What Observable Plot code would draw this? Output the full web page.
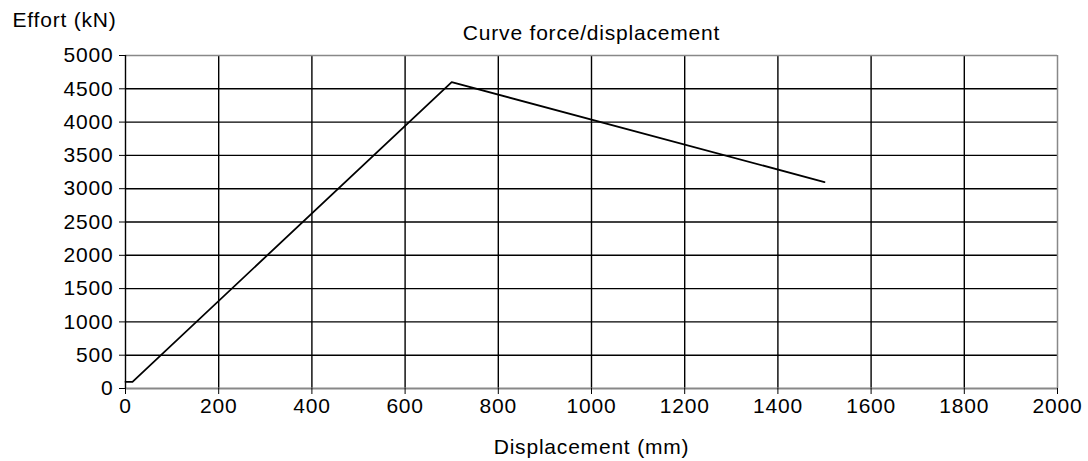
<!DOCTYPE html>
<html>
<head>
<meta charset="utf-8">
<script src="https://cdn.jsdelivr.net/npm/d3@7"></script>
<script src="https://cdn.jsdelivr.net/npm/@observablehq/plot@0.6"></script>
<style>
  html, body { margin: 0; padding: 0; background: #fff; }
  svg text { letter-spacing: 0.8px; }
</style>
</head>
<body>
<div id="chart"></div>
<script>
const title = "Curve force/displacement";
const yLabel = "Effort (kN)";
const xLabel = "Displacement (mm)";

const displacement = [0, 15, 700, 1500];
const effort = [100, 100, 4600, 3100];

const xTicks = [0, 200, 400, 600, 800, 1000, 1200, 1400, 1600, 1800, 2000];
const yTicks = [0, 500, 1000, 1500, 2000, 2500, 3000, 3500, 4000, 4500, 5000];

const data = displacement.map((d, i) => ({x: d, y: effort[i]}));
const innerX = xTicks.filter(t => t > 0 && t < 2000);
const innerY = yTicks.filter(t => t > 0 && t < 5000);

const chart = Plot.plot({
  width: 1088,
  height: 461,
  marginLeft: 125,
  marginRight: 31,
  marginTop: 55,
  marginBottom: 73,
  style: {fontFamily: "'Liberation Sans', Arial, sans-serif", fontSize: "21px", color: "#000", background: "#fff"},
  x: {domain: [0, 2000]},
  y: {domain: [0, 5000]},
  marks: [
    Plot.ruleY(innerY, {stroke: "#000", strokeWidth: 1.4}),
    Plot.ruleX(innerX, {stroke: "#000", strokeWidth: 1.4}),
    Plot.ruleY([5000], {stroke: "#888", strokeWidth: 1.5}),
    Plot.ruleX([2000], {stroke: "#888", strokeWidth: 1.5}),
    Plot.ruleY([0], {stroke: "#888", strokeWidth: 2}),
    Plot.ruleX([0], {stroke: "#000", strokeWidth: 1.4}),
    Plot.axisX({ticks: xTicks, tickSize: 6, tickPadding: 4, tickFormat: d => String(d), label: null, stroke: "#000", fill: "#000"}),
    Plot.axisY({ticks: yTicks, tickSize: 6, tickPadding: 6, tickFormat: d => String(d), label: null, stroke: "#000", fill: "#000"}),
    Plot.line(data, {x: "x", y: "y", stroke: "#000", strokeWidth: 1.8}),
    Plot.text([title], {frameAnchor: "top", dy: -22.5, lineAnchor: "middle", fill: "#000"}),
    Plot.text([yLabel], {frameAnchor: "top-left", textAnchor: "start", dx: -113, dy: -35.5, lineAnchor: "middle", fill: "#000"}),
    Plot.text([xLabel], {frameAnchor: "bottom", dy: 59, lineAnchor: "middle", fill: "#000"})
  ]
});
document.getElementById("chart").appendChild(chart);
</script>
</body>
</html>
